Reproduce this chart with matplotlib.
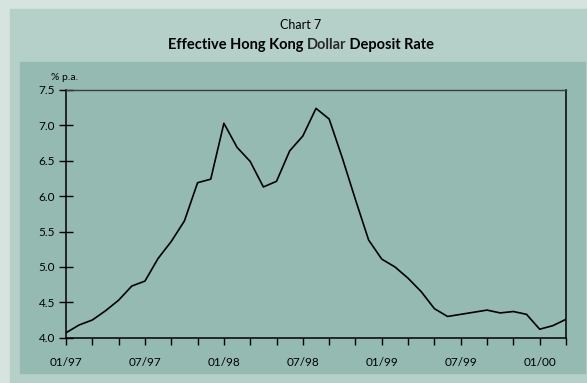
import numpy as np
import matplotlib
matplotlib.use("Agg")
import matplotlib.pyplot as plt
from matplotlib.patches import Rectangle

plt.rcParams['font.family'] = ['Lato', 'DejaVu Sans']

# monthly effective HK$ deposit rate, Jan 1997 - Mar 2000
months = np.arange(39)
rate = [4.07, 4.18, 4.25, 4.38, 4.53, 4.73, 4.80, 5.12, 5.36, 5.65,
        6.19, 6.24, 7.03, 6.69, 6.49, 6.13, 6.21, 6.64, 6.85, 7.24,
        7.09, 6.54, 5.95, 5.38, 5.11, 5.00, 4.84, 4.65, 4.41, 4.30,
        4.33, 4.36, 4.39, 4.35, 4.37, 4.33, 4.12, 4.17, 4.26]
xlabels = ['01/97', '07/97', '01/98', '07/98', '01/99', '07/99', '01/00']
yticks = [4.0, 4.5, 5.0, 5.5, 6.0, 6.5, 7.0, 7.5]

W, H = 587, 383
outer_c = '#d6e4e0'
panel_c = '#b5d0c9'
inner_c = '#95bab1'

fig = plt.figure(figsize=(W / 100, H / 100), dpi=100, facecolor=outer_c)


def px_rect(x0, y0, x1, y1, color):
    # rectangle given in pixel coords from the top-left corner
    fig.patches.append(Rectangle((x0 / W, 1 - y1 / H), (x1 - x0) / W, (y1 - y0) / H,
                                 transform=fig.transFigure, color=color, zorder=-5))


px_rect(10, 9, W, H, panel_c)
px_rect(20, 62, 585, 373, inner_c)

ax = fig.add_axes([66 / W, 1 - 337.7 / H, 500 / W, 247.7 / H])
ax.set_zorder(5)
ax.set_facecolor(inner_c)
ax.plot(months, rate, color='black', lw=1.2)

ax.set_xlim(0, 38)
ax.set_ylim(4.0, 7.5)
ax.set_xticks(np.arange(0, 39, 2))
ax.set_xticklabels([xlabels[i // 6] if i % 6 == 0 else '' for i in range(0, 39, 2)])
ax.set_yticks(yticks)
ax.set_yticklabels(['%.1f' % v for v in yticks])
ax.tick_params(axis='x', direction='out', length=5, width=1, pad=9, labelsize=8.5)
ax.tick_params(axis='y', direction='inout', length=10, width=1, pad=3, labelsize=8.5)

for s in ['left', 'bottom', 'right']:
    ax.spines[s].set_color('black')
    ax.spines[s].set_linewidth(1.1)
ax.spines['top'].set_color('#3c3c3c')
ax.spines['top'].set_linewidth(1.0)

fig.text(51 / W, 1 - 77 / H, '% p.a.', fontsize=7.5, va='center', ha='left')

# titles
cx = 301 / W
fig.text(cx, 1 - 25 / H, 'Chart 7', fontsize=9, ha='center', va='center')

parts = [('Effective Hong Kong ', 'black'), ('Dollar', '#2a2a2a'), (' Deposit Rate', 'black')]
fig.canvas.draw()
r = fig.canvas.get_renderer()
widths = []
for txt, c in parts:
    t = fig.text(0, 0, txt, fontsize=10.5, fontweight='bold')
    widths.append(t.get_window_extent(r).width)
    t.remove()
x = cx * W - sum(widths) / 2
for (txt, c), w in zip(parts, widths):
    fig.text(x / W, 1 - 45 / H, txt, fontsize=10.5, fontweight='bold', color=c,
             ha='left', va='center')
    x += w

fig.savefig('out.png', dpi=100, facecolor=outer_c)
